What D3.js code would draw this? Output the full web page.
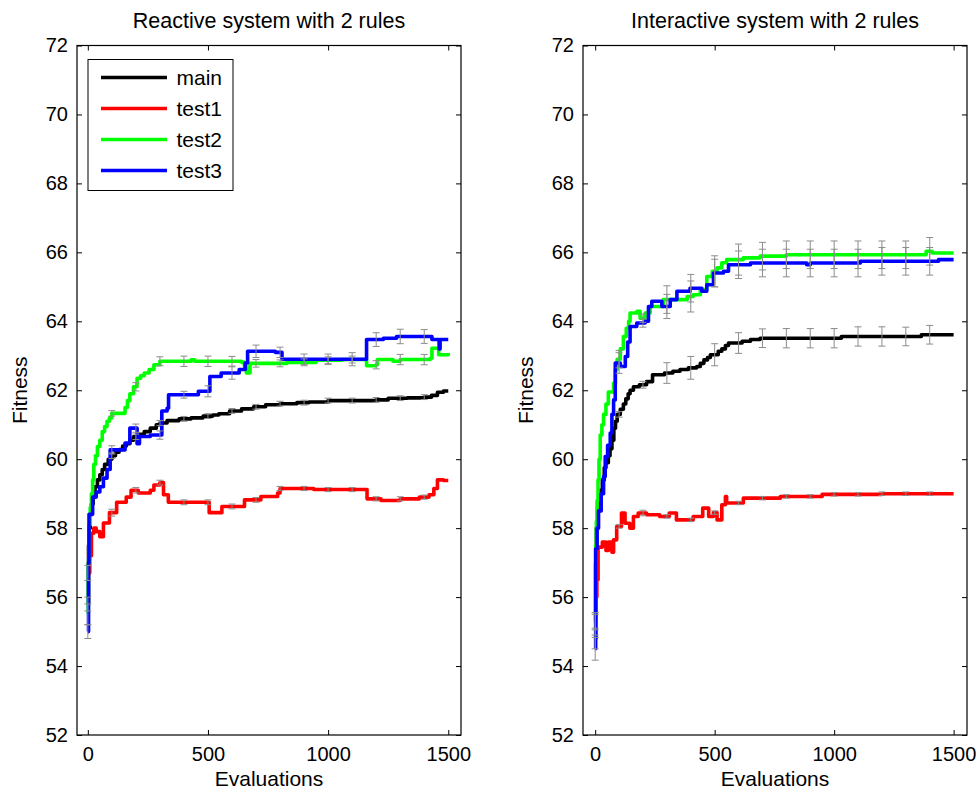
<!DOCTYPE html>
<html>
<head>
<meta charset="utf-8">
<script src="https://cdn.jsdelivr.net/npm/d3@7"></script>
<style>
  html, body { margin: 0; padding: 0; background: #fff; }
  svg { display: block; font-family: "Liberation Sans", Arial, Helvetica, sans-serif; }
</style>
</head>
<body>
<svg id="chart" width="978" height="791"></svg>
<script>
// ---------------- DATA ----------------
const seriesNames = ["main", "test1", "test2", "test3"];
const seriesColors = ["#000000", "#ff0000", "#00ff00", "#0000ff"];
const titles = ["Reactive system with 2 rules", "Interactive system with 2 rules"];
const xLabel = "Evaluations";
const yLabel = "Fitness";
const xTicks = [0, 500, 1000, 1500];
const yTicks = [52, 54, 56, 58, 60, 62, 64, 66, 68, 70, 72];
const errX = [0, 100, 200, 300, 400, 500, 600, 700, 800, 900, 1000, 1100, 1200, 1300, 1400];

// Reactive system
const reactiveMain = [[0,55.8],[3,57.5],[6,58.0],[10,58.4],[15,58.7],[22,59.0],[30,59.2],[40,59.4],[50,59.55],[60,59.7],[70,59.85],[85,60.0],[100,60.1],[115,60.2],[130,60.28],[145,60.38],[160,60.45],[175,60.55],[190,60.65],[210,60.72],[235,60.8],[260,60.9],[285,61.0],[300,61.05],[330,61.12],[380,61.17],[430,61.2],[480,61.25],[520,61.28],[545,61.32],[590,61.4],[640,61.46],[690,61.52],[740,61.58],[800,61.61],[870,61.64],[920,61.66],[1000,61.7],[1200,61.72],[1250,61.77],[1330,61.78],[1400,61.8],[1430,61.85],[1455,61.94],[1480,61.98],[1500,61.98]];
const reactiveTest1 = [[0,56.7],[8,57.2],[15,57.85],[25,58.0],[35,57.9],[50,57.75],[65,58.15],[90,58.45],[120,58.75],[160,58.9],[180,59.1],[210,59.02],[260,59.1],[275,59.25],[300,59.32],[315,58.97],[335,58.75],[505,58.45],[558,58.63],[652,58.82],[720,58.92],[790,59.02],[800,59.15],[940,59.12],[1162,58.85],[1220,58.8],[1300,58.85],[1380,58.9],[1420,58.97],[1440,59.15],[1455,59.4],[1480,59.38],[1500,59.38]];
const reactiveTest2 = [[0,55.5],[2,57.0],[5,58.1],[10,58.6],[15,59.0],[20,59.4],[25,59.85],[32,60.1],[40,60.37],[50,60.55],[60,60.8],[70,60.95],[80,61.1],[90,61.2],[100,61.33],[155,61.5],[165,61.7],[175,61.9],[190,62.1],[205,62.35],[220,62.42],[235,62.5],[255,62.6],[275,62.74],[300,62.84],[430,62.88],[445,62.84],[640,62.81],[652,62.69],[660,62.5],[675,62.78],[830,62.81],[950,62.87],[1060,62.89],[1160,62.71],[1200,62.74],[1205,62.89],[1270,62.84],[1300,62.89],[1425,62.93],[1432,63.22],[1460,63.03],[1500,63.08]];
const reactiveTest3 = [[0,55.0],[3,57.0],[5,58.4],[20,58.9],[35,59.05],[50,59.2],[65,59.45],[80,59.7],[93,60.27],[155,60.47],[175,60.9],[205,60.45],[215,60.66],[260,60.7],[308,61.4],[330,61.48],[336,61.87],[460,61.97],[508,62.4],[555,62.5],[630,62.6],[655,62.79],[665,63.13],[780,63.1],[808,62.9],[1160,63.47],[1230,63.51],[1285,63.56],[1432,63.47],[1462,63.2],[1466,63.47],[1500,63.47]];
const reactiveMainErr  = [0.2,0.08,0.08,0.07,0.07,0.07,0.07,0.07,0.07,0.07,0.07,0.07,0.07,0.07,0.07];
const reactiveTest1Err = [0.22,0.1,0.08,0.07,0.07,0.07,0.07,0.07,0.06,0.06,0.06,0.06,0.06,0.06,0.06];
const reactiveTest2Err = [0.3,0.08,0.12,0.13,0.15,0.15,0.14,0.11,0.1,0.1,0.1,0.1,0.12,0.15,0.15];
const reactiveTest3Err = [0.2,0.12,0.12,0.12,0.1,0.16,0.18,0.18,0.15,0.15,0.15,0.19,0.2,0.21,0.2];

// Interactive system
const interactiveMain = [[0,55.3],[2,57.0],[5,58.0],[10,58.6],[15,58.9],[22,59.1],[30,59.4],[38,59.75],[45,59.9],[55,60.1],[62,60.3],[70,60.55],[78,60.9],[85,61.1],[92,61.3],[105,61.45],[118,61.6],[128,61.75],[138,61.9],[146,62.0],[160,62.1],[185,62.16],[215,62.25],[240,62.45],[290,62.5],[325,62.55],[355,62.6],[390,62.65],[425,62.69],[440,62.78],[455,62.88],[470,62.95],[482,63.03],[515,63.13],[530,63.2],[545,63.3],[558,63.37],[615,63.42],[650,63.47],[690,63.51],[1030,63.56],[1365,63.61],[1500,63.61]];
const interactiveTest1 = [[0,54.8],[3,56.0],[7,56.5],[12,57.45],[30,57.6],[45,57.35],[55,57.6],[70,57.3],[77,57.66],[90,58.05],[110,58.44],[125,58.14],[145,58.0],[160,58.34],[180,58.44],[215,58.39],[270,58.34],[310,58.44],[340,58.24],[410,58.34],[450,58.58],[475,58.34],[495,58.45],[510,58.24],[530,58.68],[545,58.92],[550,58.73],[620,58.87],[775,58.92],[950,58.98],[1200,59.0],[1500,59.0]];
const interactiveTest2 = [[0,55.2],[2,57.5],[5,58.2],[8,58.8],[12,59.4],[16,60.0],[21,60.7],[28,61.0],[35,61.3],[45,61.6],[55,61.95],[77,62.2],[85,62.6],[92,62.9],[105,63.2],[118,63.56],[130,63.8],[140,64.0],[146,64.24],[175,64.29],[188,64.09],[209,64.24],[230,64.43],[285,64.63],[340,64.63],[385,64.72],[410,64.77],[440,64.92],[467,65.3],[490,65.45],[510,65.55],[530,65.7],[550,65.79],[620,65.84],[690,65.89],[800,65.93],[1385,66.03],[1410,65.98],[1500,65.98]];
const interactiveTest3 = [[0,54.5],[2,57.4],[8,58.0],[14,58.5],[25,59.0],[35,59.5],[42,60.08],[52,60.4],[63,60.76],[70,61.3],[77,61.72],[84,62.79],[105,62.69],[126,62.98],[136,63.4],[146,63.85],[174,63.95],[209,64.0],[223,64.43],[237,64.58],[279,64.43],[314,64.63],[342,64.87],[397,64.96],[446,64.87],[467,65.06],[495,65.4],[537,65.45],[558,65.64],[650,65.69],[885,65.64],[900,65.69],[1110,65.74],[1437,65.79],[1500,65.79]];
const interactiveMainErr  = [0.25,0.08,0.1,0.3,0.33,0.32,0.3,0.27,0.28,0.28,0.28,0.28,0.28,0.27,0.27];
const interactiveTest1Err = [0.3,0.05,0.08,0.05,0.05,0.05,0.05,0.05,0.05,0.05,0.05,0.05,0.05,0.05,0.05];
const interactiveTest2Err = [0.3,0.25,0.12,0.4,0.45,0.45,0.45,0.4,0.4,0.4,0.4,0.4,0.4,0.4,0.4];
const interactiveTest3Err = [0.33,0.3,0.12,0.35,0.4,0.4,0.4,0.4,0.4,0.4,0.4,0.4,0.4,0.4,0.4];

// ---------------- LAYOUT ----------------
const panels = [
  { title: titles[0], left: 77, right: 461, xDomain: [-45, 1553],
    series: [reactiveMain, reactiveTest1, reactiveTest2, reactiveTest3],
    errs: [reactiveMainErr, reactiveTest1Err, reactiveTest2Err, reactiveTest3Err], legend: true },
  { title: titles[1], left: 583, right: 967, xDomain: [-51, 1556],
    series: [interactiveMain, interactiveTest1, interactiveTest2, interactiveTest3],
    errs: [interactiveMainErr, interactiveTest1Err, interactiveTest2Err, interactiveTest3Err], legend: false }
];
const plotTop = 45.5, plotBottom = 735;
const tickFont = 20, labelFont = 21, titleFont = 21.5;
const svg = d3.select("#chart");

// value of a stair series at xv (last point at or before xv)
function valueAt(data, xv) {
  const i = d3.bisector(d => d[0]).right(data, xv);
  return data[Math.max(0, i - 1)][1];
}

panels.forEach(p => {
  const x = d3.scaleLinear().domain(p.xDomain).range([p.left, p.right]);
  const y = d3.scaleLinear().domain([52, 72]).range([plotBottom, plotTop]);
  const g = svg.append("g");

  // lines (stairs)
  const line = d3.line().curve(d3.curveStepAfter).x(d => x(d[0])).y(d => y(d[1]));
  p.series.forEach((s, i) => {
    g.append("path").datum(s)
      .attr("fill", "none").attr("stroke", seriesColors[i])
      .attr("stroke-width", 3.6).attr("stroke-linejoin", "round")
      .attr("d", line);
  });

  // error bars
  const eg = g.append("g").attr("stroke", "#8c8c8c").attr("stroke-width", 1).attr("fill", "none");
  p.series.forEach((s, i) => {
    errX.forEach((ex, k) => {
      const v = valueAt(s, ex), e = p.errs[i][k];
      const cx = x(ex), y1 = y(v - e), y2 = y(v + e);
      eg.append("line").attr("x1", cx).attr("x2", cx).attr("y1", y1).attr("y2", y2);
      eg.append("line").attr("x1", cx - 3.5).attr("x2", cx + 3.5).attr("y1", y1).attr("y2", y1);
      eg.append("line").attr("x1", cx - 3.5).attr("x2", cx + 3.5).attr("y1", y2).attr("y2", y2);
    });
  });

  // axes (matlab style: box, ticks inward on all sides)
  const fmt = d3.format("d");
  const axB = d3.axisBottom(x).tickValues(xTicks).tickFormat(fmt).tickSizeInner(-5).tickSizeOuter(0).tickPadding(12);
  const axT = d3.axisTop(x).tickValues(xTicks).tickSizeInner(-5).tickSizeOuter(0).tickFormat("");
  const axL = d3.axisLeft(y).tickValues(yTicks).tickFormat(fmt).tickSizeInner(-5).tickSizeOuter(0).tickPadding(9);
  const axR = d3.axisRight(y).tickValues(yTicks).tickSizeInner(-5).tickSizeOuter(0).tickFormat("");
  const styleAx = sel => {
    sel.select(".domain").remove();
    sel.selectAll("line").attr("stroke", "#000");
    sel.selectAll("text").attr("font-size", tickFont).attr("fill", "#000")
      .style("font-family", '"Liberation Sans", Arial, sans-serif');
  };
  g.append("g").attr("transform", `translate(0,${plotBottom})`).call(axB).call(styleAx);
  g.append("g").attr("transform", `translate(0,${plotTop})`).call(axT).call(styleAx);
  g.append("g").attr("transform", `translate(${p.left},0)`).call(axL).call(styleAx);
  g.append("g").attr("transform", `translate(${p.right},0)`).call(axR).call(styleAx);
  g.append("rect").attr("x", p.left).attr("y", plotTop)
    .attr("width", p.right - p.left).attr("height", plotBottom - plotTop)
    .attr("fill", "none").attr("stroke", "#000").attr("stroke-width", 1.2);

  // title & labels
  const cx = (p.left + p.right) / 2;
  g.append("text").attr("x", cx).attr("y", 28).attr("text-anchor", "middle")
    .attr("font-size", titleFont).text(p.title);
  g.append("text").attr("x", cx).attr("y", 786).attr("text-anchor", "middle")
    .attr("font-size", labelFont).text(xLabel);
  g.append("text").attr("transform", `translate(${p.left - 50},${(plotTop + plotBottom) / 2}) rotate(-90)`)
    .attr("text-anchor", "middle").attr("font-size", labelFont).text(yLabel);

  // legend
  if (p.legend) {
    const lg = g.append("g");
    lg.append("rect").attr("x", 88).attr("y", 59.5).attr("width", 145).attr("height", 131)
      .attr("fill", "#fff").attr("stroke", "#000").attr("stroke-width", 1);
    seriesNames.forEach((n, i) => {
      const ly = 77.5 + i * 31;
      lg.append("line").attr("x1", 101).attr("x2", 167).attr("y1", ly).attr("y2", ly)
        .attr("stroke", seriesColors[i]).attr("stroke-width", 3.6);
      lg.append("text").attr("x", 176.5).attr("y", ly + 7).attr("font-size", labelFont).text(n);
    });
  }
});
</script>
</body>
</html>
